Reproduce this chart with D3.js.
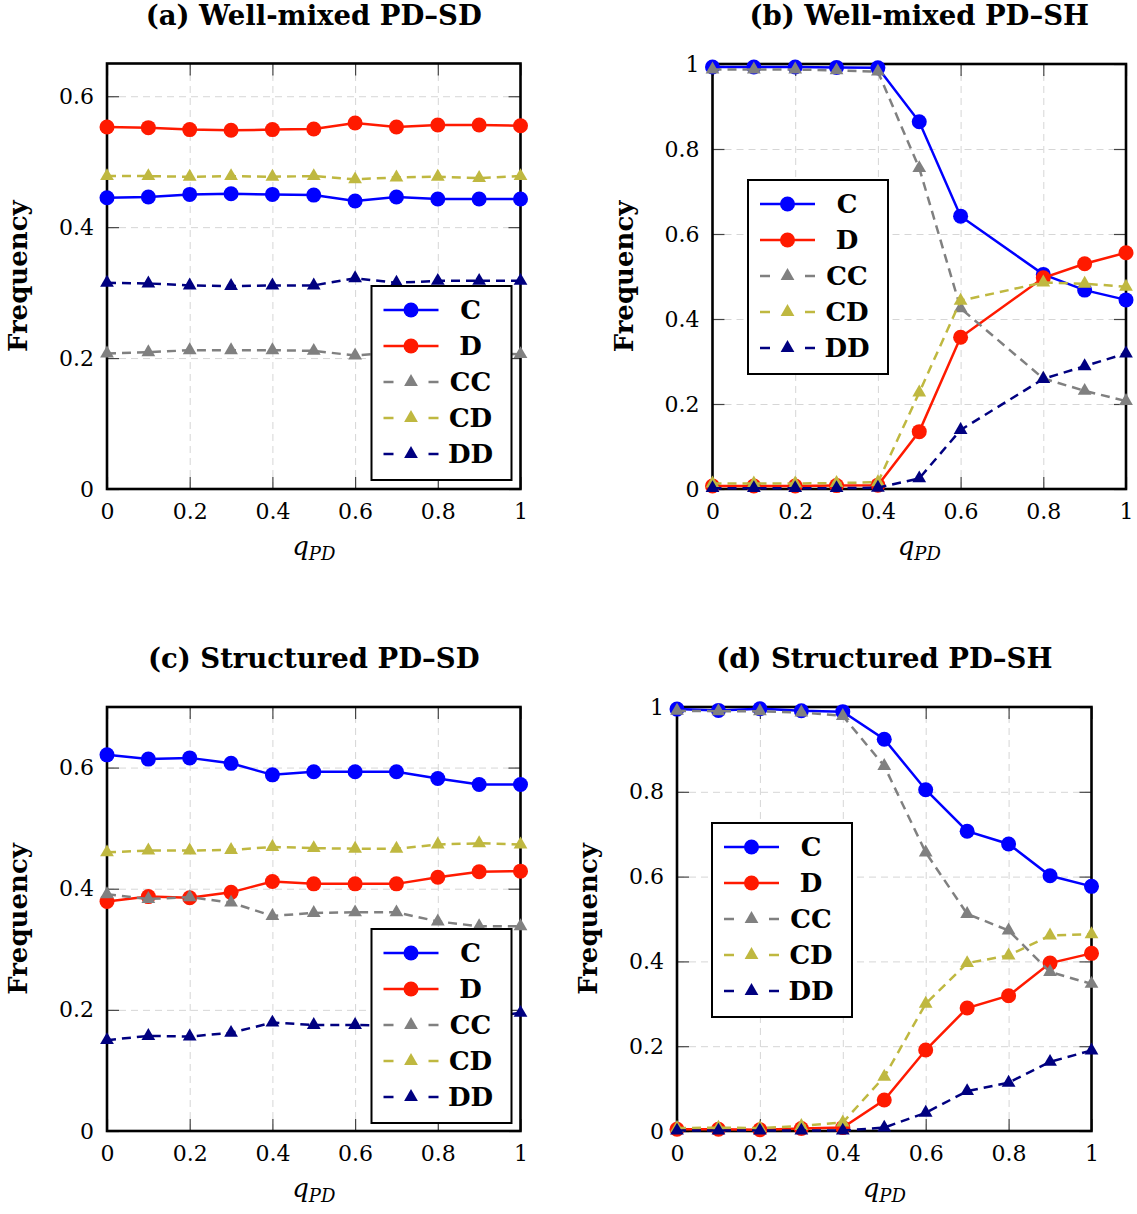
<!DOCTYPE html>
<html>
<head>
<meta charset="utf-8">
<script src="https://d3js.org/d3.v7.min.js"></script>
<style>
  body { margin:0; background:#fff; }
</style>
</head>
<body>
<script>
// q_PD values; panel (b) has no point at 0.7
const qFull = [0, 0.1, 0.2, 0.3, 0.4, 0.5, 0.6, 0.7, 0.8, 0.9, 1];
const qB    = [0, 0.1, 0.2, 0.3, 0.4, 0.5, 0.6, 0.8, 0.9, 1];

const xTicks = [0, 0.2, 0.4, 0.6, 0.8, 1];
const xTickLabels = ["0", "0.2", "0.4", "0.6", "0.8", "1"];
const yTicksSD = [0, 0.2, 0.4, 0.6];
const yTickLabelsSD = ["0", "0.2", "0.4", "0.6"];
const yTicksSH = [0, 0.2, 0.4, 0.6, 0.8, 1];
const yTickLabelsSH = ["0", "0.2", "0.4", "0.6", "0.8", "1"];

const seriesNames = ["C", "D", "CC", "CD", "DD"];
const titles = ["(a) Well-mixed PD\u2013SD", "(b) Well-mixed PD\u2013SH",
                "(c) Structured PD\u2013SD", "(d) Structured PD\u2013SH"];

// (a) well-mixed PD-SD
const aC  = [0.445, 0.446, 0.450, 0.451, 0.450, 0.449, 0.440, 0.446, 0.443, 0.443, 0.443];
const aD  = [0.553, 0.552, 0.549, 0.548, 0.549, 0.550, 0.559, 0.553, 0.556, 0.556, 0.555];
const aCC = [0.207, 0.209, 0.212, 0.212, 0.212, 0.211, 0.204, 0.209, 0.205, 0.207, 0.206];
const aCD = [0.478, 0.478, 0.477, 0.478, 0.477, 0.478, 0.473, 0.476, 0.477, 0.475, 0.478];
const aDD = [0.315, 0.314, 0.311, 0.310, 0.311, 0.311, 0.322, 0.315, 0.318, 0.318, 0.318];

// (b) well-mixed PD-SH
const bC  = [0.993, 0.993, 0.993, 0.992, 0.991, 0.864, 0.642, 0.505, 0.468, 0.445];
const bD  = [0.007, 0.007, 0.007, 0.008, 0.009, 0.135, 0.357, 0.497, 0.530, 0.556];
const bCC = [0.987, 0.987, 0.987, 0.985, 0.982, 0.755, 0.425, 0.260, 0.231, 0.207];
const bCD = [0.013, 0.013, 0.013, 0.014, 0.016, 0.227, 0.443, 0.486, 0.483, 0.476];
const bDD = [0.002, 0.002, 0.002, 0.002, 0.003, 0.025, 0.139, 0.259, 0.289, 0.319];

// (c) structured PD-SD
const cC  = [0.621, 0.614, 0.616, 0.607, 0.588, 0.593, 0.593, 0.593, 0.582, 0.572, 0.572];
const cD  = [0.379, 0.387, 0.385, 0.394, 0.412, 0.408, 0.408, 0.408, 0.419, 0.428, 0.429];
const cCC = [0.391, 0.383, 0.386, 0.377, 0.355, 0.360, 0.361, 0.361, 0.346, 0.338, 0.338];
const cCD = [0.460, 0.463, 0.463, 0.464, 0.469, 0.467, 0.466, 0.466, 0.473, 0.475, 0.473];
const cDD = [0.150, 0.157, 0.156, 0.162, 0.179, 0.175, 0.175, 0.174, 0.181, 0.187, 0.195];

// (d) structured PD-SH
const dC  = [0.995, 0.992, 0.996, 0.991, 0.989, 0.924, 0.805, 0.707, 0.677, 0.602, 0.577];
const dD  = [0.004, 0.004, 0.003, 0.006, 0.008, 0.073, 0.191, 0.290, 0.319, 0.396, 0.419];
const dCC = [0.991, 0.990, 0.990, 0.987, 0.979, 0.861, 0.657, 0.512, 0.473, 0.375, 0.347];
const dCD = [0.007, 0.008, 0.007, 0.012, 0.020, 0.128, 0.300, 0.396, 0.414, 0.461, 0.464];
const dDD = [0.001, 0.001, 0.001, 0.001, 0.001, 0.008, 0.043, 0.094, 0.114, 0.163, 0.190];

const style = {
  C:  { color: "#0000ff", dash: null,  mark: "circle" },
  D:  { color: "#ff1a00", dash: null,  mark: "circle" },
  CC: { color: "#808080", dash: "9,6", mark: "tri" },
  CD: { color: "#bfb840", dash: "9,6", mark: "tri" },
  DD: { color: "#000080", dash: "9,6", mark: "tri" }
};

const panels = [
  { title: titles[0], q: qFull, vals: [aC, aD, aCC, aCD, aDD], ymax: 0.65,
    yt: yTicksSD, ytl: yTickLabelsSD,
    left: 107, right: 520.5, top: 63.5, bottom: 489, legend: [371.5, 286] },
  { title: titles[1], q: qB, vals: [bC, bD, bCC, bCD, bDD], ymax: 1,
    yt: yTicksSH, ytl: yTickLabelsSH,
    left: 712.5, right: 1126, top: 64, bottom: 489, legend: [748, 180] },
  { title: titles[2], q: qFull, vals: [cC, cD, cCC, cCD, cDD], ymax: 0.7,
    yt: yTicksSD, ytl: yTickLabelsSD,
    left: 107, right: 520.5, top: 707, bottom: 1131, legend: [371.5, 929] },
  { title: titles[3], q: qFull, vals: [dC, dD, dCC, dCD, dDD], ymax: 1,
    yt: yTicksSH, ytl: yTickLabelsSH,
    left: 677, right: 1091.5, top: 707, bottom: 1131, legend: [712, 823] }
];

const svg = d3.select("body").append("svg")
  .attr("width", 1137).attr("height", 1214)
  .style("font-family", "'DejaVu Serif', serif");

const tri = d3.symbol().type(d3.symbolTriangle).size(82);

function addMarker(sel, kind, color, cx, cy) {
  if (kind === "circle") {
    sel.append("circle").attr("cx", cx).attr("cy", cy).attr("r", 7.5).attr("fill", color);
  } else {
    sel.append("path").attr("d", tri).attr("transform", `translate(${cx},${cy})`).attr("fill", color);
  }
}

function drawPanel(p) {
  const x = d3.scaleLinear().domain([0, 1]).range([p.left, p.right]);
  const y = d3.scaleLinear().domain([0, p.ymax]).range([p.bottom, p.top]);
  const h = p.bottom - p.top, w = p.right - p.left;
  const g = svg.append("g");

  // dashed grid
  g.append("g").attr("transform", `translate(0,${p.bottom})`)
    .call(d3.axisBottom(x).tickValues(xTicks.filter(v => v > 0 && v < 1)).tickSize(-h).tickFormat(""))
    .call(s => s.select(".domain").remove())
    .selectAll("line").attr("stroke", "#d6d6d6").attr("stroke-dasharray", "7,5");
  g.append("g").attr("transform", `translate(${p.left},0)`)
    .call(d3.axisLeft(y).tickValues(p.yt.filter(v => v > 0 && v < p.ymax)).tickSize(-w).tickFormat(""))
    .call(s => s.select(".domain").remove())
    .selectAll("line").attr("stroke", "#d6d6d6").attr("stroke-dasharray", "7,5");

  // inward ticks on four sides, labels bottom/left
  const tickStyle = s => {
    s.select(".domain").remove();
    s.selectAll("line").attr("stroke", "#444").attr("stroke-width", 1.2);
    s.selectAll("text").attr("font-size", 22).attr("fill", "#000").attr("font-family", "'DejaVu Serif', serif");
  };
  g.append("g").attr("transform", `translate(0,${p.bottom})`)
    .call(d3.axisBottom(x).tickValues(xTicks).tickSizeInner(-12).tickSizeOuter(0).tickPadding(14)
      .tickFormat((d, i) => xTickLabels[i]))
    .call(tickStyle);
  g.append("g").attr("transform", `translate(0,${p.top})`)
    .call(d3.axisTop(x).tickValues(xTicks).tickSizeInner(-12).tickSizeOuter(0).tickFormat(""))
    .call(tickStyle);
  g.append("g").attr("transform", `translate(${p.left},0)`)
    .call(d3.axisLeft(y).tickValues(p.yt).tickSizeInner(-12).tickSizeOuter(0).tickPadding(13)
      .tickFormat((d, i) => p.ytl[i]))
    .call(tickStyle);
  g.append("g").attr("transform", `translate(${p.right},0)`)
    .call(d3.axisRight(y).tickValues(p.yt).tickSizeInner(-12).tickSizeOuter(0).tickFormat(""))
    .call(tickStyle);

  // frame
  g.append("rect").attr("x", p.left).attr("y", p.top).attr("width", w).attr("height", h)
    .attr("fill", "none").attr("stroke", "#000").attr("stroke-width", 2.6);

  // series
  const line = d3.line().x(d => x(d[0])).y(d => y(d[1]));
  seriesNames.forEach((name, k) => {
    const st = style[name];
    const pts = p.q.map((q, i) => [q, p.vals[k][i]]);
    g.append("path").datum(pts).attr("d", line)
      .attr("fill", "none").attr("stroke", st.color).attr("stroke-width", 2.5)
      .attr("stroke-dasharray", st.dash);
    const mg = g.append("g");
    pts.forEach(d => addMarker(mg, st.mark, st.color, x(d[0]), y(d[1])));
  });

  // titles and labels
  g.append("text").attr("x", (p.left + p.right) / 2).attr("y", p.top - 39)
    .attr("text-anchor", "middle").attr("font-weight", "bold").attr("font-size", 27.5)
    .text(p.title);
  g.append("text")
    .attr("transform", `translate(${p.left - 80},${(p.top + p.bottom) / 2}) rotate(-90)`)
    .attr("text-anchor", "middle").attr("font-weight", "bold").attr("font-size", 26)
    .text("Frequency");
  const xl = g.append("text").attr("x", (p.left + p.right) / 2).attr("y", p.bottom + 66)
    .attr("text-anchor", "middle").attr("font-style", "italic");
  xl.append("tspan").attr("font-size", 26).text("q");
  xl.append("tspan").attr("font-size", 18).attr("dy", 5).text("PD");

  // legend
  const [lx, ly] = p.legend;
  const lg = g.append("g").attr("transform", `translate(${lx},${ly})`);
  lg.append("rect").attr("width", 140).attr("height", 194)
    .attr("fill", "#fff").attr("stroke", "#000").attr("stroke-width", 2);
  seriesNames.forEach((name, k) => {
    const st = style[name];
    const yy = 24 + k * 36;
    lg.append("line").attr("x1", 12).attr("x2", 67).attr("y1", yy).attr("y2", yy)
      .attr("stroke", st.color).attr("stroke-width", 2.5)
      .attr("stroke-dasharray", st.dash ? "10,35" : null);
    addMarker(lg, st.mark, st.color, 39.5, yy);
    lg.append("text").attr("x", 99).attr("y", yy).attr("dy", "0.36em")
      .attr("text-anchor", "middle").attr("font-weight", "bold").attr("font-size", 26)
      .text(name);
  });
}

panels.forEach(drawPanel);
</script>
</body>
</html>
